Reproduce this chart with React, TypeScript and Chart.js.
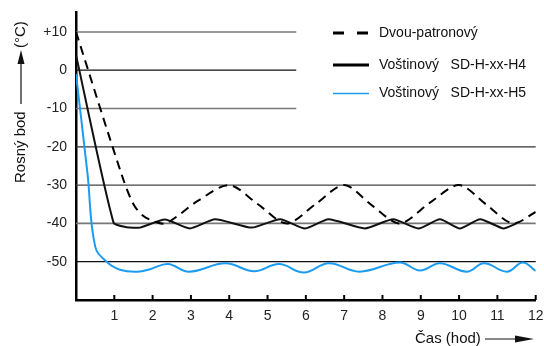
import React, { useEffect, useRef } from "react";
import { Chart, registerables } from "chart.js";

Chart.register(...registerables);

// ---- data ----
const hourTicks = [1, 2, 3, 4, 5, 6, 7, 8, 9, 10, 11, 12];
const tempTicks = [-50, -40, -30, -20, -10, 0, 10];

const seriesNames = ["Dvou-patronový", "Voštinový\u00a0\u00a0\u00a0SD-H-xx-H4", "Voštinový\u00a0\u00a0\u00a0SD-H-xx-H5"];

const dashT = [0, 1.2, 1.5, 1.75, 2.05, 2.35, 3.2, 4, 4.75, 5.5, 6.25, 7, 7.75, 8.45, 9.25, 10, 10.7, 11.4, 12];
const dashV = [10, -27.5, -35, -38, -39.5, -40, -34, -30, -35, -40, -35, -30, -35.5, -40, -34.5, -30, -35, -40, -37];

const h4T = [0, 0.98, 1.32, 1.67, 2.32, 2.97, 3.63, 4.59, 5.33, 5.98, 6.59, 7.54, 8.28, 8.94, 9.5, 10.02, 10.55, 11.15, 11.5];
const h4V = [4, -39.8, -41, -41.1, -39, -41.3, -38.9, -41.1, -38.9, -41.3, -38.9, -41.3, -38.9, -41.3, -38.9, -41.3, -38.9, -41.3, -40];

const h5T = [0, 0.3, 0.5, 0.8, 1.15, 1.6, 1.95, 2.4, 2.95, 3.9, 4.65, 5.3, 5.95, 6.6, 7.4, 8.45, 8.98, 9.5, 10.2, 10.65, 11.25, 11.66, 12];
const h5V = [-1, -27, -46, -50, -52.1, -52.6, -51.9, -50.6, -52.6, -50.4, -52.5, -50.6, -52.8, -50.4, -52.6, -50.2, -52.3, -50.4, -52.6, -50.4, -52.6, -50.2, -52.4];

// ---- styles ----
const FONT = "'Liberation Sans', Arial, sans-serif";
const BLUE = "#1b9cf2";
const gridStyles: Record<number, { color: string; width: number; end: number }> = {
  10: { color: "#777", width: 1.5, end: 5.75 },
  0: { color: "#111", width: 1.2, end: 5.75 },
  "-10": { color: "#777", width: 1.5, end: 5.75 },
  "-20": { color: "#333", width: 1.2, end: 12 },
  "-30": { color: "#444", width: 1.2, end: 12 },
  "-40": { color: "#777", width: 1.8, end: 12 },
  "-50": { color: "#111", width: 1.2, end: 12 },
};

const zip = (t: number[], v: number[]) => t.map((x, i) => ({ x, y: v[i] }));

const zeroPad = (s: any) => {
  s.paddingLeft = 0;
  s.paddingRight = 0;
  s.paddingTop = 0;
  s.paddingBottom = 0;
};

const decorPlugin = {
  id: "decor",
  beforeDatasetsDraw(chart: any) {
    const { ctx, chartArea, scales } = chart;
    const xs = scales.x;
    const ys = scales.y;
    ctx.save();
    tempTicks.forEach((v) => {
      const s = gridStyles[v];
      const y = ys.getPixelForValue(v);
      ctx.beginPath();
      ctx.strokeStyle = s.color;
      ctx.lineWidth = s.width;
      ctx.moveTo(chartArea.left, y);
      ctx.lineTo(xs.getPixelForValue(s.end), y);
      ctx.stroke();
    });
    ctx.strokeStyle = "#000";
    ctx.lineWidth = 2;
    hourTicks.forEach((h) => {
      const x = xs.getPixelForValue(h);
      ctx.beginPath();
      ctx.moveTo(x, chartArea.bottom);
      ctx.lineTo(x, chartArea.bottom - 5);
      ctx.stroke();
    });
    ctx.restore();
  },
  afterDraw(chart: any) {
    const { ctx } = chart;
    ctx.save();
    ctx.fillStyle = "#111";
    ctx.strokeStyle = "#111";
    ctx.save();
    ctx.translate(21, 0);
    ctx.rotate(-Math.PI / 2);
    ctx.font = `15px ${FONT}`;
    ctx.textBaseline = "middle";
    ctx.textAlign = "left";
    ctx.fillText("Rosný bod", -183, 0);
    ctx.lineWidth = 1.2;
    ctx.beginPath();
    ctx.moveTo(-104, 0);
    ctx.lineTo(-62, 0);
    ctx.stroke();
    ctx.beginPath();
    ctx.moveTo(-64, -3.5);
    ctx.lineTo(-50, 0);
    ctx.lineTo(-64, 3.5);
    ctx.closePath();
    ctx.fill();
    ctx.fillText("(°C)", -48, 0);
    ctx.restore();

    ctx.font = `15px ${FONT}`;
    ctx.textBaseline = "middle";
    ctx.textAlign = "left";
    ctx.fillText("Čas (hod)", 415, 339);
    ctx.lineWidth = 1.2;
    ctx.beginPath();
    ctx.moveTo(485, 339);
    ctx.lineTo(518, 339);
    ctx.stroke();
    ctx.beginPath();
    ctx.moveTo(515, 335.5);
    ctx.lineTo(534, 339);
    ctx.lineTo(515, 342.5);
    ctx.closePath();
    ctx.fill();

    const rows = [33, 65, 93.5];
    ctx.font = `14px ${FONT}`;
    ctx.lineCap = "butt";
    ctx.strokeStyle = "#000";
    ctx.lineWidth = 3;
    ctx.setLineDash([11, 13]);
    ctx.beginPath();
    ctx.moveTo(333, rows[0]);
    ctx.lineTo(369, rows[0]);
    ctx.stroke();
    ctx.setLineDash([]);
    ctx.beginPath();
    ctx.moveTo(333, rows[1]);
    ctx.lineTo(369, rows[1]);
    ctx.stroke();
    ctx.strokeStyle = BLUE;
    ctx.lineWidth = 1.6;
    ctx.beginPath();
    ctx.moveTo(333, rows[2]);
    ctx.lineTo(369, rows[2]);
    ctx.stroke();
    ctx.fillStyle = "#111";
    seriesNames.forEach((n, i) => ctx.fillText(n, 379, rows[i]));
    ctx.restore();
  },
};

export default function App() {
  const ref = useRef<HTMLCanvasElement>(null);
  useEffect(() => {
    if (!ref.current) return;
    const chart = new Chart(ref.current, {
      type: "line",
      data: {
        datasets: [
          {
            label: seriesNames[0],
            data: zip(dashT, dashV),
            borderColor: "#000",
            borderWidth: 2,
            borderDash: [9, 6],
            tension: 0.3,
            pointRadius: 0,
            fill: false,
          },
          {
            label: seriesNames[1],
            data: zip(h4T, h4V),
            borderColor: "#111",
            borderWidth: 2,
            tension: 0.2,
            pointRadius: 0,
            fill: false,
          },
          {
            label: seriesNames[2],
            data: zip(h5T, h5V),
            borderColor: BLUE,
            borderWidth: 2,
            tension: 0.4,
            pointRadius: 0,
            fill: false,
          },
        ],
      },
      options: {
        animation: false,
        responsive: false,
        layout: { padding: { top: 12, right: 8.3, left: 0, bottom: 0 } },
        plugins: { legend: { display: false }, tooltip: { enabled: false } },
        scales: {
          x: {
            type: "linear",
            bounds: "data",
            min: 0,
            max: 12,
            afterBuildTicks: (s: any) => {
              s.ticks = hourTicks.map((v) => ({ value: v }));
            },
            afterFit: (s: any) => {
              s.height = 46;
              zeroPad(s);
            },
            ticks: {
              font: { size: 14, family: FONT },
              color: "#222",
              padding: 8,
              maxRotation: 0,
              autoSkip: false,
            },
            grid: { color: "rgba(0,0,0,0)", drawTicks: false },
            border: { display: true, color: "#000", width: 2.5 },
          },
          y: {
            type: "linear",
            bounds: "data",
            min: -60,
            max: 15.2,
            afterBuildTicks: (s: any) => {
              s.ticks = tempTicks.map((v) => ({ value: v }));
            },
            afterFit: (s: any) => {
              s.width = 76;
              zeroPad(s);
            },
            ticks: {
              font: { size: 14, family: FONT },
              color: "#222",
              padding: 9,
              autoSkip: false,
              callback: (v: any) => (v > 0 ? "+" + v : String(v)),
            },
            grid: { color: "rgba(0,0,0,0)", drawTicks: false },
            border: { display: true, color: "#000", width: 2.5 },
          },
        },
      },
      plugins: [decorPlugin],
    });
    return () => chart.destroy();
  }, []);
  return (
    <div style={{ position: "absolute", left: 0, top: 0, width: 544, height: 346, background: "#fff" }}>
      <canvas ref={ref} width={544} height={346} style={{ display: "block" }} />
    </div>
  );
}
